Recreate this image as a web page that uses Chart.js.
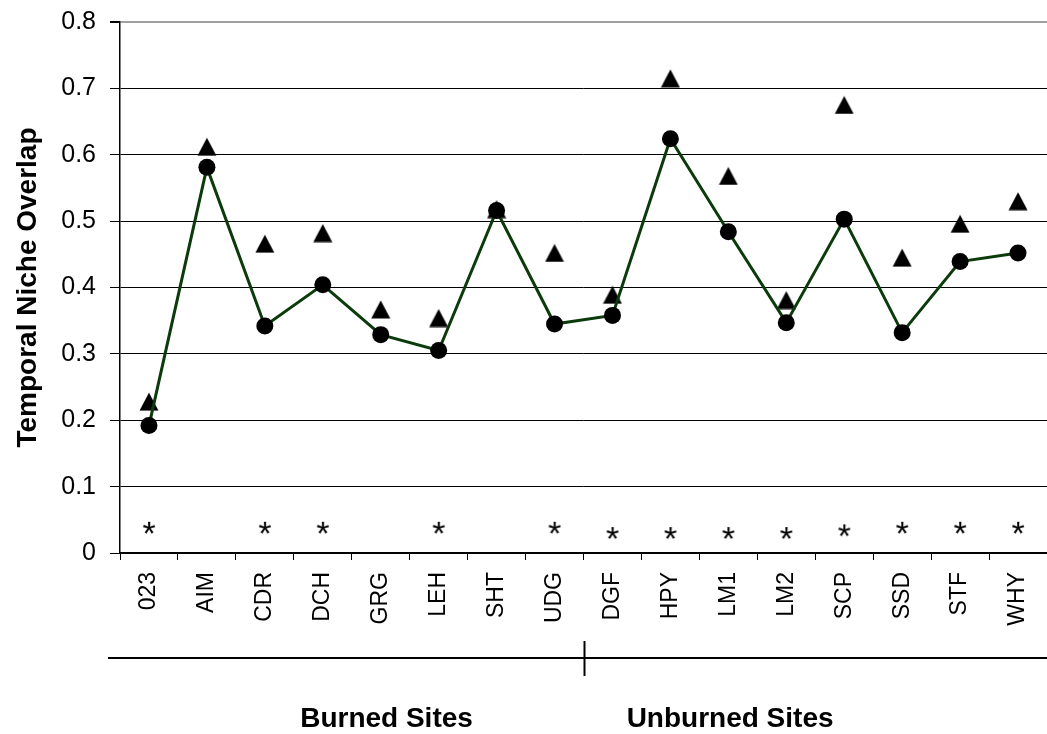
<!DOCTYPE html>
<html>
<head>
<meta charset="utf-8">
<script src="https://cdn.jsdelivr.net/npm/chart.js@4/dist/chart.umd.min.js"></script>
<style>
  html, body { margin: 0; padding: 0; background: #fff; }
  #wrap { width: 1047px; height: 734px; position: relative; }
</style>
</head>
<body>
<div id="wrap"><canvas id="c"></canvas></div>
<script>
// ---- Data ----
const categories = ['023','AIM','CDR','DCH','GRG','LEH','SHT','UDG','DGF','HPY','LM1','LM2','SCP','SSD','STF','WHY'];
const circleValues = [0.192,0.581,0.342,0.404,0.329,0.305,0.516,0.345,0.358,0.624,0.484,0.347,0.503,0.332,0.439,0.452];
const triangleValues = [0.228,0.612,0.466,0.482,0.367,0.354,0.518,0.452,0.389,0.715,0.568,0.381,0.675,0.445,0.496,0.530];
const asteriskValues = [0.038,null,0.038,0.038,null,0.038,null,0.038,0.030,0.030,0.030,0.030,0.034,0.038,0.038,0.038];
const yTicks = [0,0.1,0.2,0.3,0.4,0.5,0.6,0.7,0.8];
const groupNames = ['Burned Sites','Unburned Sites'];
const groupSizes = [8,8];
const yTitle = 'Temporal Niche Overlap';

// ---- marker images ----
function makeTriangle() {
  const c = document.createElement('canvas');
  c.width = 20; c.height = 19;
  const g = c.getContext('2d');
  g.fillStyle = '#000';
  g.beginPath();
  g.moveTo(0.5, 18.5); g.lineTo(19.5, 18.5); g.lineTo(10, 0.5); g.closePath();
  g.fill();
  return c;
}
function makeAsterisk() {
  const c = document.createElement('canvas');
  c.width = 24; c.height = 24;
  const g = c.getContext('2d');
  g.fillStyle = '#000';
  g.font = '34px "Liberation Sans", Arial, sans-serif';
  const m = g.measureText('*');
  const w = m.actualBoundingBoxLeft + m.actualBoundingBoxRight;
  const h = m.actualBoundingBoxAscent + m.actualBoundingBoxDescent;
  const x = 12 - w / 2 + m.actualBoundingBoxLeft;
  const y = 12 - h / 2 + m.actualBoundingBoxAscent;
  g.fillText('*', x, y);
  return c;
}
const triImg = makeTriangle();
const astImg = makeAsterisk();

const FONT = '"Liberation Sans", Arial, Helvetica, sans-serif';

const groupPlugin = {
  id: 'groups',
  afterDraw(chart) {
    const ctx = chart.ctx;
    const xs = chart.scales.x;
    ctx.save();
    ctx.strokeStyle = '#000';
    ctx.lineWidth = 2;
    ctx.beginPath();
    ctx.moveTo(108, 658);
    ctx.lineTo(chart.width, 658);
    ctx.stroke();
    let idx = 0;
    for (let g = 0; g < groupSizes.length - 1; g++) {
      idx += groupSizes[g];
      const x = Math.round((xs.getPixelForValue(idx - 1) + xs.getPixelForValue(idx)) / 2) + 0.5;
      ctx.beginPath();
      ctx.moveTo(x, 641);
      ctx.lineTo(x, 676);
      ctx.stroke();
    }
    ctx.fillStyle = '#000';
    ctx.font = 'bold 28px ' + FONT;
    ctx.textAlign = 'center';
    ctx.textBaseline = 'alphabetic';
    const anchors = [4.1, 10.03];
    groupNames.forEach((name, i) => {
      const x = xs.getPixelForValue(0) + (xs.getPixelForValue(1) - xs.getPixelForValue(0)) * anchors[i];
      ctx.fillText(name, x, 727);
    });
    ctx.restore();
  }
};

new Chart(document.getElementById('c'), {
  type: 'line',
  data: {
    labels: categories,
    datasets: [
      {
        label: 'Observed',
        data: circleValues,
        borderColor: '#0b3b0b',
        borderWidth: 3,
        pointStyle: 'circle',
        pointRadius: 8.5,
        pointHoverRadius: 8.5,
        pointBackgroundColor: '#000',
        pointBorderColor: '#000',
        pointBorderWidth: 0,
        tension: 0,
        order: 0
      },
      {
        label: 'Upper',
        data: triangleValues,
        showLine: false,
        pointStyle: triImg,
        pointRadius: 10,
        order: 1
      },
      {
        label: 'Significant',
        data: asteriskValues,
        showLine: false,
        pointStyle: astImg,
        pointRadius: 12,
        order: 2
      }
    ]
  },
  options: {
    responsive: true,
    maintainAspectRatio: false,
    animation: false,
    events: [],
    layout: { autoPadding: false, padding: { top: 22, left: 0, right: 0, bottom: 0 } },
    plugins: {
      legend: { display: false },
      tooltip: { enabled: false }
    },
    scales: {
      x: {
        type: 'category',
        offset: true,
        afterFit(s) { s.height = 181; s.paddingLeft = 0; s.paddingRight = 0; },
        grid: {
          offset: true,
          drawOnChartArea: false,
          drawTicks: true,
          tickLength: 7,
          color: '#000',
          lineWidth: 1
        },
        border: { display: true, color: '#000', width: 1.5 },
        ticks: {
          color: '#000',
          font: { family: FONT, size: 23 },
          minRotation: 90,
          maxRotation: 90,
          padding: 12,
          autoSkip: false
        }
      },
      y: {
        min: 0,
        max: 0.8,
        afterFit(s) { s.width = 120; s.paddingTop = 0; s.paddingBottom = 0; },
        afterBuildTicks(s) { s.ticks = yTicks.map(v => ({ value: v })); },
        grid: {
          color: (c) => (c.tick && Math.abs(c.tick.value - 0.8) < 1e-9) ? '#a0a0a0' : '#000',
          lineWidth: (c) => (c.tick && Math.abs(c.tick.value - 0.8) < 1e-9) ? 2 : 1,
          tickColor: '#000',
          drawTicks: true,
          tickLength: 10
        },
        border: { display: true, color: '#000', width: 1.5 },
        ticks: {
          color: '#000',
          font: { family: FONT, size: 25 },
          padding: 14,
          callback: (v) => (Math.abs(v) < 1e-9 ? '0' : Number(v).toFixed(1))
        },
        title: {
          display: true,
          text: yTitle,
          color: '#000',
          font: { family: FONT, size: 28, weight: 'bold' },
          padding: { top: 11, bottom: 0 }
        }
      }
    }
  },
  plugins: [groupPlugin]
});
</script>
</body>
</html>
